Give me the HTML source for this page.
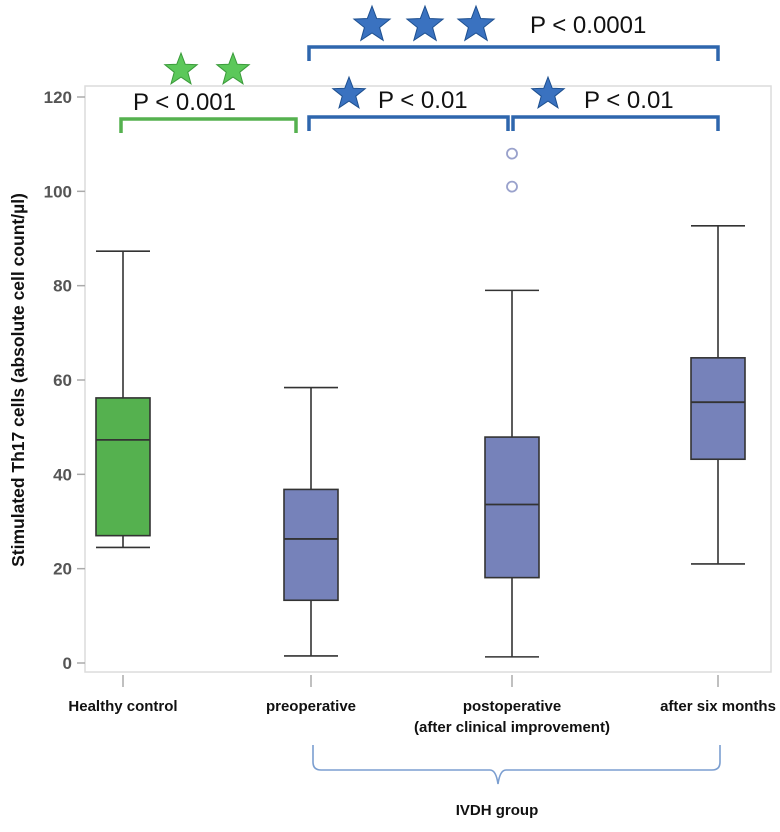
<!DOCTYPE html>
<html><head><meta charset="utf-8"><style>
body{margin:0;background:#fff;}
svg{display:block;font-family:"Liberation Sans",sans-serif;}
</style></head><body>
<svg id="c" width="780" height="832" viewBox="0 0 780 832"></svg>
<script>
const categories=["Healthy control","preoperative","postoperative","after six months"];
const whiskerLow=[24.5,1.5,1.3,21];
const q1=[27,13.3,18.1,43.2];
const medians=[47.3,26.3,33.6,55.3];
const q3=[56.2,36.8,47.9,64.7];
const whiskerHigh=[87.3,58.4,79.0,92.7];
const outlierGroup=[2,2];
const outlierValues=[101,108];
const yTicks=[0,20,40,60,80,100,120];
const yTickLabels=["0","20","40","60","80","100","120"];

const NS="http://www.w3.org/2000/svg";
const svg=document.getElementById('c');
function y(v){return 663-(663-97)*v/120;}
const catX=[123,311,512,718];
function x(i){return catX[i];}
function el(t,a,p){const e=document.createElementNS(NS,t);for(const k in a)e.setAttribute(k,a[k]);(p||svg).appendChild(e);return e;}

const frame=el('rect',{x:85,y:86,width:686,height:586,fill:'none',stroke:'#dcdcdc','stroke-width':1.5});



yTicks.forEach((t,i)=>{
  const l=el('line',{x1:77,x2:85,y1:y(t),y2:y(t),stroke:'#aaa','stroke-width':1.5});
  
  
  const tx=el('text',{x:72,y:y(t)+6,'text-anchor':'end','font-size':17,'font-weight':'bold',fill:'#555'});
  tx.textContent=yTickLabels[i];
  
  
});
const yt=el('text',{x:0,y:0,transform:'translate(24,380) rotate(-90)','text-anchor':'middle','font-size':17.5,'font-weight':'bold',fill:'#111'});
yt.textContent="Stimulated Th17 cells (absolute cell count/µl)";



const labelLines=[["Healthy control"],["preoperative"],["postoperative","(after clinical improvement)"],["after six months"]];
categories.forEach((c,i)=>{
  const l=el('line',{x1:x(i),x2:x(i),y1:675,y2:687,stroke:'#aaa','stroke-width':1.5});
  
  
  labelLines[i].forEach((s,j)=>{
    const t=el('text',{x:x(i),y:711+j*21,'text-anchor':'middle','font-size':15,'font-weight':'bold',fill:'#111',textLength:0});
    t.removeAttribute('textLength');
    t.textContent=s;
    
    
  });
  const col=i==0?'#55b14f':'#7682ba';
  const g=el('g',{});
  
  
  const bw=54,cw=54;
  el('line',{x1:x(i),x2:x(i),y1:y(whiskerHigh[i]),y2:y(q3[i]),stroke:'#333','stroke-width':1.6},g);
  el('line',{x1:x(i),x2:x(i),y1:y(q1[i]),y2:y(whiskerLow[i]),stroke:'#333','stroke-width':1.6},g);
  el('line',{x1:x(i)-cw/2,x2:x(i)+cw/2,y1:y(whiskerHigh[i]),y2:y(whiskerHigh[i]),stroke:'#333','stroke-width':1.6},g);
  el('line',{x1:x(i)-cw/2,x2:x(i)+cw/2,y1:y(whiskerLow[i]),y2:y(whiskerLow[i]),stroke:'#333','stroke-width':1.6},g);
  el('rect',{x:x(i)-bw/2,y:y(q3[i]),width:bw,height:y(q1[i])-y(q3[i]),fill:col,stroke:'#333','stroke-width':1.6},g);
  el('line',{x1:x(i)-bw/2,x2:x(i)+bw/2,y1:y(medians[i]),y2:y(medians[i]),stroke:'#333','stroke-width':1.8},g);
});
outlierValues.forEach((v,k)=>{
  const c=el('circle',{cx:x(outlierGroup[k]),cy:y(v),r:5,fill:'none',stroke:'#9aa2cc','stroke-width':1.8});
  
  
});

function bracket(x1,x2,yy,col,name){
  const p=el('path',{d:`M${x1} ${yy+14} V${yy} H${x2} V${yy+14}`,fill:'none',stroke:col,'stroke-width':3.5});
  
  
}
function label(tx,ty,s,name){
  const t=el('text',{x:tx,y:ty,'font-size':24,fill:'#111'});
  t.textContent=s;
  
  
}
function star(cx,cy,r,col,name){
  let d='';
  for(let k=0;k<10;k++){const rr=k%2?r*0.42:r;const a=-Math.PI/2+k*Math.PI/5;d+=(k?'L':'M')+(cx+rr*Math.cos(a)).toFixed(1)+' '+(cy+rr*Math.sin(a)).toFixed(1);}
  const p=el('path',{d:d+'Z',fill:col,stroke:col==='#5cc85a'?'#3a9a3a':'#1d4f8f','stroke-width':1});
  
  
}
bracket(121,296,119,'#55b14f','bracket-healthy-vs-preop');
label(133,110,'P < 0.001','p-value-healthy-vs-preop');
star(181,70,17,'#5cc85a','significance-star');
star(233,70,17,'#5cc85a','significance-star');

bracket(309,508,117,'#2e66ad','bracket-preop-vs-postop');
bracket(513,718,117,'#2e66ad','bracket-postop-vs-six-months');
label(378,108,'P < 0.01','p-value-preop-vs-postop');
label(584,108,'P < 0.01','p-value-postop-vs-six-months');
star(349,94,17,'#3a72c0','significance-star');
star(548,94,17,'#3a72c0','significance-star');

bracket(309,718,47,'#2e66ad','bracket-preop-vs-six-months');
label(530,33,'P < 0.0001','p-value-preop-vs-six-months');
star(372,25,19,'#3a72c0','significance-star');
star(425,25,19,'#3a72c0','significance-star');
star(476,25,19,'#3a72c0','significance-star');

const br=el('path',{d:'M313 745 V762 Q313 770 321 770 H490 Q496 770 498 784 Q500 770 506 770 H712 Q720 770 720 762 V745',fill:'none',stroke:'#7b9ed0','stroke-width':1.6});


const gl=el('text',{x:497,y:815,'text-anchor':'middle','font-size':15,'font-weight':'bold',fill:'#111'});
gl.textContent='IVDH group';


</script>
</body></html>
